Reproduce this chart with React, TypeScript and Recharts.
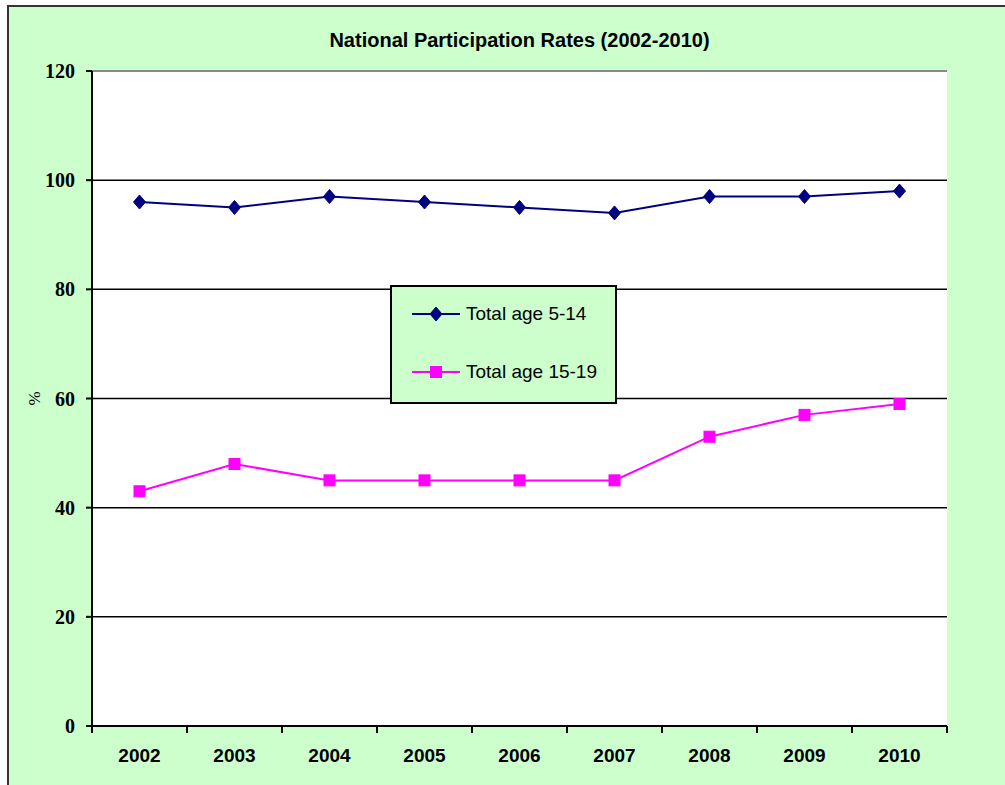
import React from "react";
import { LineChart, Line, XAxis, YAxis, CartesianGrid, ReferenceLine, Legend } from "recharts";

const years = ["2002", "2003", "2004", "2005", "2006", "2007", "2008", "2009", "2010"];
const age5to14 = [96, 95, 97, 96, 95, 94, 97, 97, 98];
const age15to19 = [43, 48, 45, 45, 45, 45, 53, 57, 59];
const yTicks = [0, 20, 40, 60, 80, 100, 120];
const seriesOrder = ["a", "b"];

const data = years.map((y, i) => ({ year: y, a: age5to14[i], b: age15to19[i] }));

const BLUE = "#000080";
const PINK = "#FF00FF";
const GREEN = "#CCFFCC";
const X_TICK_MARGIN = 23;
const X_TICK_LEN = 7;

const Diamond = (props: any) => {
  const { cx, cy } = props;
  if (cx == null || cy == null) return null;
  return (
    <polygon
      points={`${cx},${cy - 7} ${cx + 6},${cy} ${cx},${cy + 7} ${cx - 6},${cy}`}
      fill={BLUE}
      stroke={BLUE}
      strokeWidth={1}
    />
  );
};

const Square = (props: any) => {
  const { cx, cy } = props;
  if (cx == null || cy == null) return null;
  return <rect x={cx - 5.5} y={cy - 5.5} width={11} height={11} fill={PINK} stroke={PINK} strokeWidth={1} />;
};

const XTick = (props: any) => {
  const { x, y, payload, index, visibleTicksCount } = props;
  const half = payload && payload.offset ? payload.offset : 0;
  const axisY = y - X_TICK_MARGIN;
  const isLast = index === visibleTicksCount - 1;
  return (
    <g>
      <line x1={x - half} y1={axisY} x2={x - half} y2={axisY + X_TICK_LEN} stroke="#000" strokeWidth={2} />
      {isLast && (
        <line x1={x + half} y1={axisY} x2={x + half} y2={axisY + X_TICK_LEN} stroke="#000" strokeWidth={2} />
      )}
      <text
        x={x}
        y={y}
        dy="0.71em"
        textAnchor="middle"
        fill="#000"
        fontFamily="'Liberation Sans', Arial, sans-serif"
        fontWeight="bold"
        fontSize={19}
      >
        {payload.value}
      </text>
    </g>
  );
};

const LegendBox = (props: any) => {
  const payload = [...(props.payload || [])].sort(
    (p: any, q: any) => seriesOrder.indexOf(p.dataKey) - seriesOrder.indexOf(q.dataKey)
  );
  return (
    <div
      style={{
        width: 227,
        height: 119,
        boxSizing: "border-box",
        border: "2px solid #000",
        background: GREEN,
        position: "relative",
        fontFamily: "'Liberation Sans', Arial, sans-serif",
        fontSize: 19,
        color: "#000",
      }}
    >
      {payload.map((p: any, i: number) => (
        <div
          key={i}
          style={{ position: "absolute", left: 20, top: 12 + i * 58, height: 30, display: "flex", alignItems: "center" }}
        >
          <svg width={50} height={30} style={{ display: "block" }}>
            <line x1={0} y1={15} x2={48} y2={15} stroke={p.color} strokeWidth={2} />
            {p.dataKey === "a" ? <Diamond cx={24} cy={15} /> : <Square cx={24} cy={15} />}
          </svg>
          <span style={{ marginLeft: 4, whiteSpace: "nowrap" }}>{p.value}</span>
        </div>
      ))}
    </div>
  );
};

export default function App() {
  return (
    <div
      style={{
        position: "absolute",
        left: 7,
        top: 5,
        width: 998,
        height: 780,
        boxSizing: "border-box",
        borderTop: "2px solid #333",
        borderLeft: "2px solid #333",
        background: GREEN,
      }}
    >
      <div
        style={{
          position: "absolute",
          left: 83,
          width: 855,
          top: 22,
          textAlign: "center",
          fontFamily: "'Liberation Sans', Arial, sans-serif",
          fontWeight: "bold",
          fontSize: 20,
          lineHeight: "22px",
          color: "#000",
        }}
      >
        National Participation Rates (2002-2010)
      </div>
      <div style={{ position: "absolute", left: 1, top: 1 }}>
        <LineChart width={995} height={777} data={data} margin={{ top: 63, right: 58, left: 12, bottom: 19 }}>
          <CartesianGrid vertical={false} stroke="#000" strokeWidth={1.5} fill="#FFFFFF" />
          <XAxis
            dataKey="year"
            scale="band"
            height={40}
            interval={0}
            tickLine={false}
            tickSize={0}
            tickMargin={X_TICK_MARGIN}
            axisLine={{ stroke: "#000", strokeWidth: 2 }}
            tick={<XTick />}
          />
          <YAxis
            yAxisId={0}
            width={70}
            domain={[0, 120]}
            ticks={yTicks}
            interval={0}
            tickSize={6}
            tickMargin={11}
            tickLine={{ stroke: "#000", strokeWidth: 2 }}
            axisLine={{ stroke: "#000", strokeWidth: 2 }}
            tick={{ fill: "#000", fontFamily: "'Liberation Serif', 'Times New Roman', serif", fontWeight: "bold", fontSize: 20 }}
            label={{
              value: "%",
              angle: -90,
              position: "insideLeft",
              offset: 12,
              style: { fill: "#000", fontFamily: "'Liberation Serif', serif", fontSize: 17, textAnchor: "middle" },
            }}
          />
          <YAxis
            yAxisId="r"
            orientation="right"
            width={0}
            domain={[0, 120]}
            tick={false}
            tickLine={false}
            axisLine={{ stroke: "#888", strokeWidth: 2 }}
          />
          <ReferenceLine y={120} stroke="#888" strokeWidth={2} />
          <Line
            type="linear"
            dataKey="a"
            name="Total age 5-14"
            stroke={BLUE}
            strokeWidth={2}
            dot={<Diamond />}
            activeDot={false}
            isAnimationActive={false}
          />
          <Line
            type="linear"
            dataKey="b"
            name="Total age 15-19"
            stroke={PINK}
            strokeWidth={2}
            dot={<Square />}
            activeDot={false}
            isAnimationActive={false}
          />
          <Legend
            content={<LegendBox />}
            layout="horizontal"
            verticalAlign="middle"
            align="center"
            wrapperStyle={{ position: "absolute", left: 380, top: 277, width: 227, height: 119 }}
          />
        </LineChart>
      </div>
    </div>
  );
}
